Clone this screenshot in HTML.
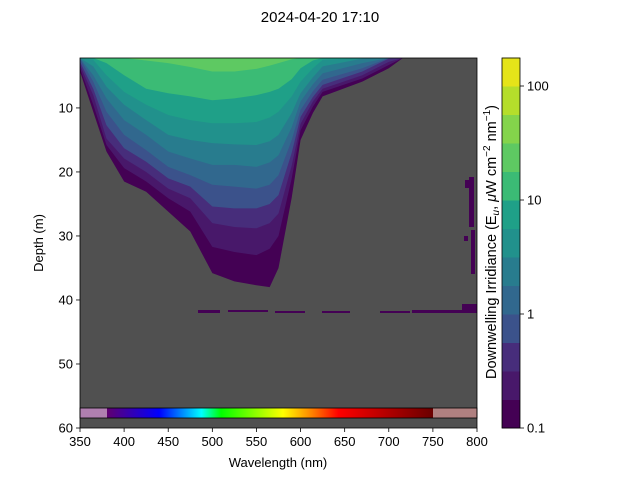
<!DOCTYPE html>
<html><head><meta charset="utf-8"><style>
body{margin:0;background:#fff;}
svg{display:block;font-family:"Liberation Sans","DejaVu Sans",sans-serif;}
</style></head><body>
<svg id="chart" width="640" height="480" viewBox="0 0 640 480">
<text x="320" y="22" text-anchor="middle" font-size="15">2024-04-20 17:10</text>
<rect x="80" y="58" width="397" height="370" fill="#505050"/>
<g id="bands"></g>
<g fill="#440154">
<rect x="198" y="310" width="22" height="3"/>
<rect x="228" y="310" width="40" height="2"/>
<rect x="275" y="311" width="30" height="2"/>
<rect x="322" y="311" width="28" height="2"/>
<rect x="380" y="311" width="30" height="2"/>
<rect x="412" y="310" width="65" height="3"/>
<rect x="462" y="304" width="15" height="7"/>
<rect x="469" y="177" width="5" height="50"/>
<rect x="465" y="180" width="4" height="8"/>
<rect x="471" y="230" width="4" height="44"/>
<rect x="464" y="236" width="4" height="5"/>
</g>
<defs><linearGradient id="rainbow" x1="0" x2="1" y1="0" y2="0">
<stop offset="0" stop-color="#600070"/><stop offset="0.16" stop-color="#0000ff"/><stop offset="0.29" stop-color="#00ffff"/><stop offset="0.35" stop-color="#00ff00"/><stop offset="0.54" stop-color="#ffff00"/><stop offset="0.63" stop-color="#ff8000"/><stop offset="0.71" stop-color="#ff0000"/><stop offset="1" stop-color="#6a0000"/>
</linearGradient></defs>
<g>
<rect x="80" y="408" width="27" height="10" fill="#b07fb0"/>
<rect x="107" y="408" width="326" height="10" fill="url(#rainbow)"/>
<rect x="433" y="408" width="44" height="10" fill="#b08080"/>
<rect x="80" y="408" width="397" height="10" fill="none" stroke="#000" stroke-width="0.8"/>
</g>
<rect x="80" y="58" width="397" height="370" fill="none" stroke="#000" stroke-width="0.8"/>
<g id="xaxis" font-size="13"></g>
<g id="yaxis" font-size="13"></g>
<text x="278" y="467" text-anchor="middle" font-size="13">Wavelength (nm)</text>
<text transform="translate(43,243) rotate(-90)" text-anchor="middle" font-size="13">Depth (m)</text>
<g id="cbar" font-size="13"></g>
<text transform="translate(496,242) rotate(-90)" text-anchor="middle" font-size="14.5">Downwelling Irridiance (E<tspan font-size="10" dy="3" font-style="italic">u</tspan><tspan dy="-3">, </tspan><tspan font-style="italic">μ</tspan>W cm<tspan font-size="10" dy="-6">−2</tspan><tspan dy="6"> nm</tspan><tspan font-size="10" dy="-6">−1</tspan><tspan dy="6">)</tspan></text>
</svg>
<script>
const wavelengths=[350,365,380,400,425,450,475,500,525,550,565,575,590,600,614,625,670,700,716];
// depth (m) of the lower boundary of each contour band (band 0 = 0.1 level ... band 9)
const band0=[4.3,10.6,16.8,21.5,23.1,26.2,29.3,35.8,37.1,37.7,38.0,35.0,24.0,15.0,10.8,8.2,5.9,3.8,2.2];
const band1=[3.8,9.5,15.8,19.4,21.5,24.1,26.2,31.7,32.5,33.0,32.0,30.0,21.0,13.5,9.8,7.5,5.4,3.3,2.2];
const band2=[3.3,8.0,14.8,17.9,20.0,22.6,24.1,28.0,28.6,28.8,28.0,26.5,19.0,12.5,9.0,7.0,4.9,2.8,2.2];
const band3=[2.8,7.0,12.7,16.3,18.4,21.0,22.3,25.4,25.7,25.7,25.0,23.6,17.0,11.4,8.3,6.4,4.3,2.3,2.2];
const band4=[2.3,5.9,10.6,14.2,16.6,19.2,20.5,22.0,22.3,22.6,22.0,20.5,15.0,10.3,7.4,5.6,3.8,2.2,2.2];
const band5=[2.2,4.9,8.5,11.9,14.2,16.8,17.9,18.9,18.9,19.2,18.5,17.4,13.0,9.0,6.3,4.6,3.0,2.2,2.2];
const band6=[2.2,3.5,6.7,9.5,11.9,14.2,15.0,15.5,15.7,15.8,15.2,14.2,10.8,7.7,5.2,3.5,2.3,2.2,2.2];
const band7=[2.2,2.5,4.9,7.5,9.5,11.1,11.9,12.4,12.4,12.2,11.5,10.6,8.2,5.9,3.8,2.5,2.2,2.2,2.2];
const band8=[2.2,2.2,3.0,4.9,7.0,7.7,8.2,8.8,8.5,8.0,7.5,7.0,5.5,3.8,2.6,2.2,2.2,2.2,2.2];
const band9=[2.2,2.2,2.2,2.2,2.6,3.0,3.6,4.3,4.3,3.9,3.4,3.0,2.4,2.2,2.2,2.2,2.2,2.2,2.2];
const bandColors=["#440154","#48186a","#472d7b","#3b528b","#31688e","#287c8e","#21918c","#1fa088","#3bbb75","#5ec962","#84d44b","#b5de2b","#e5e419"];
const xTicks=[350,400,450,500,550,600,650,700,750,800];
const yTicks=[10,20,30,40,50,60];
const cbarTicks=[0.1,1,10,100];
const cbarTickLabels=["0.1","1","10","100"];

const NS="http://www.w3.org/2000/svg";
const X=w=>80+(w-350)*397/450;
const Y=d=>58+(d-2.2)*370/57.8;
const CB=v=>428-(Math.log10(v)+1)*114;
function mk(tag,attrs,parent){const e=document.createElementNS(NS,tag);for(const k in attrs)e.setAttribute(k,attrs[k]);parent.appendChild(e);return e;}

const bands=[band0,band1,band2,band3,band4,band5,band6,band7,band8,band9];
const gB=document.getElementById('bands');
bands.forEach((b,i)=>{
  let pts=[X(wavelengths[0])+','+Y(2.2)];
  wavelengths.forEach((w,j)=>pts.push(X(w)+','+Y(b[j])));
  pts.push(X(wavelengths[wavelengths.length-1])+','+Y(2.2));
  const p=mk('polygon',{points:pts.join(' '),fill:bandColors[i]},gB);
  
  
});

const gx=document.getElementById('xaxis');
xTicks.forEach(t=>{
  const l=mk('line',{x1:X(t),x2:X(t),y1:428,y2:432,stroke:'#000','stroke-width':0.8},gx);
  
  
  const tx=mk('text',{x:X(t),y:446,'text-anchor':'middle'},gx);tx.textContent=t;
  
  
});
const gy=document.getElementById('yaxis');
yTicks.forEach(t=>{
  const l=mk('line',{x1:76,x2:80,y1:Y(t),y2:Y(t),stroke:'#000','stroke-width':0.8},gy);
  
  
  const tx=mk('text',{x:73,y:Y(t)+4.5,'text-anchor':'end'},gy);tx.textContent=t;
  
  
});
const gc=document.getElementById('cbar');
bandColors.forEach((c,i)=>{
  const lo=Math.pow(10,-1+i*0.25),hi=Math.pow(10,-1+(i+1)*0.25);
  const r=mk('rect',{x:502,y:CB(hi),width:18,height:CB(lo)-CB(hi)+0.5,fill:c},gc);
  
  
});
mk('rect',{x:502,y:58,width:18,height:370,fill:'none',stroke:'#000','stroke-width':0.8},gc);
cbarTicks.forEach((t,i)=>{
  const l=mk('line',{x1:520,x2:524,y1:CB(t),y2:CB(t),stroke:'#000','stroke-width':0.8},gc);
  
  
  const tx=mk('text',{x:527,y:CB(t)+4.5},gc);tx.textContent=cbarTickLabels[i];
  
  
});
</script>
</body></html>
